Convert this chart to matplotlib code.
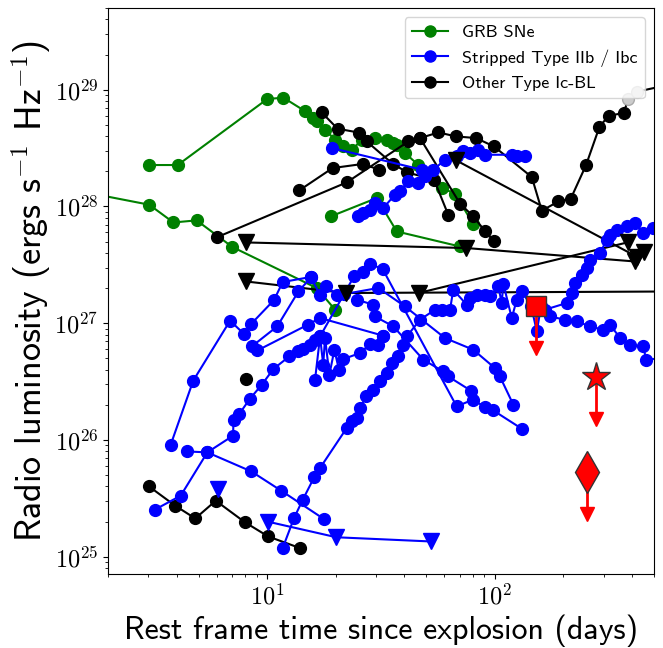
import numpy as np
import matplotlib
matplotlib.use('Agg')
import matplotlib.pyplot as plt
from matplotlib.lines import Line2D
from matplotlib.ticker import FuncFormatter, LogLocator

plt.rcParams['font.family'] = ['cmss10', 'DejaVu Sans']
plt.rcParams['mathtext.fontset'] = 'cm'
plt.rcParams['axes.unicode_minus'] = False

# all values as log10(days), log10(L [erg/s/Hz])

# GRB SNe
grb1_t = [0.482, 0.607, 1.000, 1.071, 1.168, 1.202, 1.219, 1.254, 1.298, 1.335, 1.372,
          1.416, 1.473, 1.526, 1.553, 1.570, 1.605, 1.662, 1.768, 1.825, 1.904]
grb1_L = [28.355, 28.355, 28.920, 28.932, 28.814, 28.758, 28.728, 28.657, 28.572, 28.520, 28.486,
          28.572, 28.586, 28.572, 28.543, 28.529, 28.458, 28.358, 28.158, 28.109, 27.852]
grb2_t = [0.176, 0.482, 0.588, 0.690, 0.847, 1.217, 1.298]
grb2_L = [28.131, 28.015, 27.863, 27.881, 27.653, 27.302, 27.116]
grb3_t = [1.279, 1.481, 1.569, 1.845]
grb3_L = [27.915, 28.072, 27.786, 27.658]

# other Ic-BL, detections
icbl1_t = [1.239, 1.309, 1.405, 1.437, 1.551, 1.615, 1.733, 1.795]
icbl1_L = [28.806, 28.666, 28.632, 28.557, 28.366, 28.292, 28.229, 27.929]
icbl2_t = [1.141, 1.287, 1.419, 1.492]
icbl2_L = [28.138, 28.329, 28.364, 28.315]
icbl3_t = [0.781, 1.349, 1.620, 1.671, 1.752, 1.829, 1.917, 1.996, 2.162, 2.206, 2.279,
           2.333, 2.400, 2.459, 2.499, 2.565, 2.586, 2.623, 2.750]
icbl3_L = [27.738, 28.206, 28.557, 28.586, 28.634, 28.600, 28.586, 28.514, 28.252, 27.964, 28.043,
           28.066, 28.353, 28.681, 28.777, 28.800, 28.920, 28.983, 29.036]
icbl3_faint = 16  # last points drawn in grey
icbl4_t = [1.671, 1.847, 1.905, 1.957, 1.997]
icbl4_L = [28.586, 28.024, 27.915, 27.788, 27.701]
icbl5_t = [0.481, 0.596, 0.684, 0.774, 0.901, 1.004, 1.143]
icbl5_L = [25.602, 25.437, 25.328, 25.480, 25.297, 25.174, 25.075]
icbl6_t = [0.907]
icbl6_L = [26.525]

# other Ic-BL, upper limits
icbl_lim1_t = [0.906, 1.875, 2.615]
icbl_lim1_L = [27.692, 27.644, 27.529]
icbl_lim2_t = [1.829, 2.623, 2.655]
icbl_lim2_L = [28.396, 27.570, 27.612]
icbl_lim3_t = [0.906, 1.345, 3.000]
icbl_lim3_L = [27.358, 27.259, 27.274]
icbl_lim4_t = [1.665, 2.586]
icbl_lim4_L = [27.259, 27.694]

# stripped IIb / Ibc
ib1_t = [1.283, 1.679]
ib1_L = [28.501, 28.315]
ib2_t = [1.400, 1.422, 1.452, 1.473, 1.510, 1.561, 1.583, 1.620, 1.664, 1.693, 1.730,
         1.781, 1.832, 1.861, 1.891, 1.927, 1.957, 2.074, 2.096, 2.132]
ib2_L = [27.915, 27.944, 27.972, 28.032, 27.987, 28.101, 28.129, 28.215, 28.201, 28.257, 28.315,
         28.400, 28.429, 28.472, 28.458, 28.486, 28.443, 28.443, 28.435, 28.429]
ib3_t = [0.576, 0.675, 0.837, 0.898, 0.929, 1.030, 1.068, 1.191, 1.232, 1.257, 1.305,
         1.339, 1.488, 1.605, 1.781, 1.905, 2.000, 2.022, 2.081]
ib3_L = [25.959, 26.508, 27.022, 26.908, 26.993, 27.199, 27.353, 27.396, 27.244, 27.321, 27.244,
         27.250, 27.302, 27.144, 26.873, 26.773, 26.616, 26.544, 26.302]
ib4_t = [0.932, 1.044, 1.137, 1.192]
ib4_L = [26.801, 26.973, 27.272, 27.392]
ib5_t = [0.957, 1.178, 1.232, 1.510]
ib5_L = [26.767, 26.987, 27.045, 26.893]
ib6_t = [0.506, 0.620, 0.737, 0.850, 0.852, 0.877, 0.924, 0.976, 1.027, 1.097, 1.137,
         1.159, 1.188, 1.210, 1.232]
ib6_L = [25.403, 25.523, 25.894, 26.037, 26.174, 26.222, 26.353, 26.473, 26.608, 26.716, 26.765,
         26.779, 26.816, 26.859, 26.887]
ib7_t = [0.648, 0.737, 0.930, 1.062, 1.249]
ib7_L = [25.902, 25.894, 25.731, 25.565, 25.323]
ib8_t = [1.210, 1.232, 1.246, 1.254, 1.273, 1.295, 1.315, 1.334, 1.408, 1.452, 1.488, 1.510]
ib8_L = [26.516, 26.884, 26.645, 26.876, 26.559, 26.773, 26.602, 26.693, 26.745, 26.822, 26.816, 26.893]
ib9_t = [1.232, 1.383, 1.422, 1.452, 1.507, 1.832, 1.903, 1.957, 1.993, 2.120]
ib9_L = [26.887, 27.407, 27.435, 27.507, 27.464, 26.288, 26.345, 26.282, 26.253, 26.094]
ib10_t = [1.393, 1.466, 1.473, 1.554, 1.686, 1.773, 1.795, 1.895]
ib10_L = [27.201, 27.159, 27.058, 26.973, 26.687, 26.587, 26.544, 26.422]
ib11_t = [1.068, 1.118, 1.156, 1.207, 1.232, 1.349, 1.371, 1.393, 1.408, 1.434, 1.466,
          1.495, 1.525, 1.547, 1.576, 1.598, 1.613, 1.671, 1.737, 1.766, 1.803, 1.817,
          1.876, 1.891, 1.920, 1.957, 1.979, 2.015, 2.030, 2.037, 2.074, 2.096, 2.118,
          2.159, 2.184, 2.203, 2.242, 2.308, 2.359, 2.418, 2.476, 2.506, 2.550, 2.593,
          2.652, 2.664, 2.750]
ib11_L = [25.075, 25.332, 25.488, 25.683, 25.760, 26.102, 26.159, 26.188, 26.274, 26.373, 26.431,
          26.502, 26.574, 26.659, 26.716, 26.816, 26.887, 27.030, 27.116, 27.116, 27.116, 27.287,
          27.159, 27.216, 27.244, 27.244, 27.230, 27.315, 27.173, 27.338, 27.045, 27.201, 27.272,
          27.150, 26.930, 27.150, 27.058, 27.030, 27.016, 26.973, 26.944, 26.987, 26.873, 26.816,
          26.801, 26.687, 26.705]
ib12_t = [2.220, 2.315, 2.337, 2.352, 2.381, 2.403, 2.418, 2.462, 2.491, 2.506, 2.535,
          2.579, 2.615, 2.652, 2.696, 2.750]
ib12_L = [27.116, 27.173, 27.259, 27.344, 27.416, 27.473, 27.544, 27.601, 27.715, 27.758, 27.801,
          27.829, 27.858, 27.773, 27.815, 27.830]
ib_lim1_t = [0.784]
ib_lim1_L = [25.580]
ib_lim2_t = [1.004, 1.304, 1.718]
ib_lim2_L = [25.300, 25.167, 25.131]

# red upper limits (square, star, diamond)
red_t = [2.179, 2.443, 2.403]
red_L = [27.144, 26.536, 25.722]
red_marker = ['s', '*', 'd']
red_size = [15, 21, 21]
arrow_dex = 0.36

fig = plt.figure(figsize=(6.63, 6.48), dpi=100)
ax = fig.add_axes([0.163, 0.114, 0.8235, 0.8735])

MS = 8.5


def curve(t, L, color, marker='o', ms=MS, z=2):
    ax.plot(10 ** np.array(t), 10 ** np.array(L), '-', color=color, marker=marker,
            ms=ms, lw=1.5, zorder=z)


for t, L in [(grb1_t, grb1_L), (grb2_t, grb2_L), (grb3_t, grb3_L)]:
    curve(t, L, 'green', z=2)

for t, L in [(icbl1_t, icbl1_L), (icbl2_t, icbl2_L), (icbl4_t, icbl4_L),
             (icbl5_t, icbl5_L), (icbl6_t, icbl6_L)]:
    curve(t, L, 'black', z=2.2)
# the late points of this one are grey
ax.plot(10 ** np.array(icbl3_t), 10 ** np.array(icbl3_L), '-', color='black', lw=1.5, zorder=2.2)
ax.plot(10 ** np.array(icbl3_t[:icbl3_faint]), 10 ** np.array(icbl3_L[:icbl3_faint]), 'o',
        color='black', ms=MS, zorder=2.2)
ax.plot(10 ** np.array(icbl3_t[icbl3_faint:18]), 10 ** np.array(icbl3_L[icbl3_faint:18]), 'o',
        mfc='#cccccc', mec='#aaaaaa', ms=MS, zorder=2.2)

blue_sets = [(ib1_t, ib1_L), (ib2_t, ib2_L), (ib3_t, ib3_L), (ib4_t, ib4_L), (ib5_t, ib5_L),
             (ib6_t, ib6_L), (ib7_t, ib7_L), (ib8_t, ib8_L), (ib9_t, ib9_L), (ib10_t, ib10_L),
             (ib11_t, ib11_L), (ib12_t, ib12_L)]
for t, L in blue_sets:
    curve(t, L, 'blue', z=2.4)
for t, L in [(ib_lim1_t, ib_lim1_L), (ib_lim2_t, ib_lim2_L)]:
    curve(t, L, 'blue', marker='v', ms=12, z=2.4)

for t, L in [(icbl_lim1_t, icbl_lim1_L), (icbl_lim2_t, icbl_lim2_L),
             (icbl_lim3_t, icbl_lim3_L), (icbl_lim4_t, icbl_lim4_L)]:
    ax.plot(10 ** np.array(t), 10 ** np.array(L), '-', color='black', lw=1.5, zorder=2.1)
    ax.plot(10 ** np.array(t), 10 ** np.array(L), 'v', color='black', ms=12, zorder=3)

for t, L, m, s in zip(red_t, red_L, red_marker, red_size):
    x = 10 ** t
    ax.plot([x, x], [10 ** L, 10 ** (L - arrow_dex)], color='red', lw=2, zorder=4)
    ax.plot(x, 10 ** (L - arrow_dex), 'v', color='red', ms=10, zorder=4)
    ax.plot(x, 10 ** L, m, mfc='red', mec='#333333', mew=1, ms=s, zorder=5)

ax.set_xscale('log')
ax.set_yscale('log')
ax.set_xlim(2, 500)
ax.set_ylim(7.1e24, 5e29)

fmt = FuncFormatter(lambda v, p: r'$10^{%d}$' % round(np.log10(v)))
ax.xaxis.set_major_locator(LogLocator(base=10))
ax.yaxis.set_major_locator(LogLocator(base=10))
ax.xaxis.set_major_formatter(fmt)
ax.yaxis.set_major_formatter(fmt)
ax.tick_params(axis='both', labelsize=17.5)

ax.set_xlabel('Rest frame time since explosion (days)', fontsize=23)
ax.set_ylabel(r'Radio luminosity (ergs s$^{\mathsf{-1}}$ Hz$^{\mathsf{-1}}$)', fontsize=26,
              labelpad=0)

handles = [Line2D([], [], color='green', marker='o', ms=8, lw=1.5, label='GRB SNe'),
           Line2D([], [], color='blue', marker='o', ms=8, lw=1.5, label='Stripped Type IIb / Ibc'),
           Line2D([], [], color='black', marker='o', ms=8, lw=1.5, label='Other Type Ic-BL')]
ax.legend(handles=handles, loc='upper right', fontsize=13)

fig.savefig('out.png', dpi=100)
